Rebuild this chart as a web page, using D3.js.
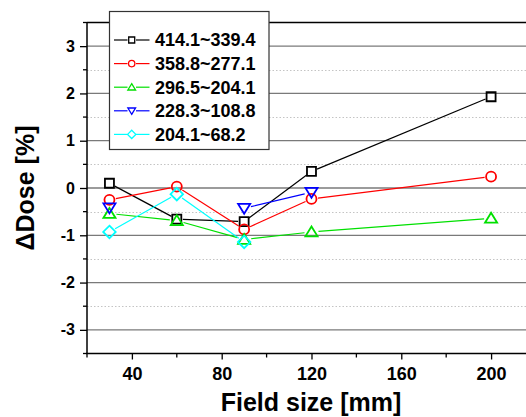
<!DOCTYPE html>
<html><head><meta charset="utf-8">
<script src="https://cdn.jsdelivr.net/npm/d3@7"></script>
<style>
html,body{margin:0;padding:0;background:#fff;}
svg{display:block;font-family:"Liberation Sans",Arial,sans-serif;}
</style></head>
<body>
<svg id="c" width="526" height="417"></svg>
<script>
const fieldSizes = [30, 60, 90, 120, 200];
const seriesNames = ["414.1~339.4", "358.8~277.1", "296.5~204.1", "228.3~108.8", "204.1~68.2"];
const s1 = [0.10, -0.66, -0.71, 0.35, 1.93];
const s2 = [-0.25, 0.03, -0.875, -0.23, 0.24];
const s3 = [-0.54, -0.69, -1.09, -0.93, -0.64];
const s4 = [-0.42, null, -0.43, -0.09, null];
const s5 = [-0.93, -0.13, -1.14, null, null];
const xTicks = [40, 80, 120, 160, 200];
const xMinor = [20, 60, 100, 140, 180];
const yTicks = [-3, -2, -1, 0, 1, 2, 3];
const yMinor = [-3.5, -2.5, -1.5, -0.5, 0.5, 1.5, 2.5, 3.5];

const colors = ["#000000", "#ff0000", "#00e000", "#0000ff", "#00ffff"];
const symbols = ["square", "circle", "triUp", "triDown", "diamond"];
const allSeries = [s1, s2, s3, s4, s5];

const svg = d3.select("#c");
const L = 87, R = 527, T = 22.5, B = 353.5;
const x = d3.scaleLinear().domain([20, 216]).range([L, R]);
const y = d3.scaleLinear().domain([-3.5, 3.5]).range([B, T]);
const fmt = d => String(d);

// grid
const grid = svg.append("g");
grid.selectAll(".mn").data(yMinor.filter(v => v > -3.5 && v < 3.5)).join("line")
  .attr("x1", L).attr("x2", R).attr("y1", d => Math.round(y(d)) + 0.5).attr("y2", d => Math.round(y(d)) + 0.5)
  .attr("stroke", "#c4c4c4").attr("stroke-width", 1).attr("stroke-dasharray", "1.5,2");
grid.selectAll(".mj").data(yTicks).join("line")
  .attr("x1", L).attr("x2", R).attr("y1", d => y(d)).attr("y2", d => y(d))
  .attr("stroke", "#7a7a7a").attr("stroke-width", 1.3);

// marker paths
function markerPath(type, r) {
  switch (type) {
    case "square": return `M${-r},${-r}H${r}V${r}H${-r}Z`;
    case "circle": return `M${r},0A${r},${r} 0 1,1 ${-r},0A${r},${r} 0 1,1 ${r},0Z`;
    case "triUp": return `M0,${-r}L${r * 1.1},${r * 0.8}L${-r * 1.1},${r * 0.8}Z`;
    case "triDown": return `M0,${r}L${r * 1.1},${-r * 0.8}L${-r * 1.1},${-r * 0.8}Z`;
    case "diamond": return `M0,${-r * 1.25}L${r * 1.25},0L0,${r * 1.25}L${-r * 1.25},0Z`;
  }
}
const markR = [4.5, 5, 5.5, 5.5, 5];

const plot = svg.append("g");
allSeries.forEach((vals, i) => {
  const pts = fieldSizes.map((f, k) => vals[k] == null ? null : [x(f), y(vals[k])]);
  const g = plot.append("g");
  const gap = markR[i] + 1.5;
  for (let k = 0; k < pts.length - 1; k++) {
    const a = pts[k], b = pts[k + 1];
    if (!a || !b) continue;
    const dx = b[0] - a[0], dy = b[1] - a[1], len = Math.hypot(dx, dy);
    if (len <= 2 * gap) continue;
    const ux = dx / len, uy = dy / len;
    g.append("line")
      .attr("x1", a[0] + ux * gap).attr("y1", a[1] + uy * gap)
      .attr("x2", b[0] - ux * gap).attr("y2", b[1] - uy * gap)
      .attr("stroke", colors[i]).attr("stroke-width", 1.2);
  }
  g.selectAll("path").data(pts.filter(p => p)).join("path")
    .attr("transform", p => `translate(${p[0]},${p[1]})`)
    .attr("d", markerPath(symbols[i], markR[i]))
    .attr("fill", "none").attr("stroke", colors[i]).attr("stroke-width", 1.8);
});

// axes
const yAxis = svg.append("g").attr("transform", `translate(${L},0)`)
  .call(d3.axisLeft(y).tickValues(yTicks).tickSize(7).tickPadding(5).tickFormat(fmt));
yAxis.selectAll(".tick text").attr("font-size", 16).attr("font-weight", "bold").attr("fill", "#000");
yAxis.select(".domain").attr("stroke", "#000").attr("stroke-width", 1.5).attr("d", `M0,${T}V${B}`);
yAxis.selectAll(".tick line").attr("stroke", "#000").attr("stroke-width", 1.3);
svg.append("g").attr("transform", `translate(${L},0)`)
  .selectAll("line").data(yMinor).join("line")
  .attr("x1", -4).attr("x2", 0).attr("y1", d => y(d)).attr("y2", d => y(d))
  .attr("stroke", "#000").attr("stroke-width", 1.3);

const xAxis = svg.append("g").attr("transform", `translate(0,${B})`)
  .call(d3.axisBottom(x).tickValues(xTicks).tickSize(6).tickPadding(8).tickFormat(fmt));
xAxis.selectAll(".tick text").attr("font-size", 18).attr("font-weight", "bold").attr("fill", "#000");
xAxis.select(".domain").attr("stroke", "#000").attr("stroke-width", 1.5).attr("d", `M${L - 1},0H${R}`);
xAxis.selectAll(".tick line").attr("stroke", "#000").attr("stroke-width", 1.3);
svg.append("g").attr("transform", `translate(0,${B})`)
  .selectAll("line").data(xMinor).join("line")
  .attr("x1", d => x(d)).attr("x2", d => x(d)).attr("y1", 0).attr("y2", 4)
  .attr("stroke", "#000").attr("stroke-width", 1.3);

// top border
svg.append("line").attr("x1", L).attr("x2", R).attr("y1", T).attr("y2", T)
  .attr("stroke", "#000").attr("stroke-width", 1.5);

// axis titles
svg.append("text").attr("x", 311).attr("y", 411).attr("text-anchor", "middle")
  .attr("font-size", 25).attr("font-weight", "bold").text("Field size [mm]");
svg.append("text").attr("transform", "translate(34,188) rotate(-90)").attr("text-anchor", "middle")
  .attr("font-size", 25).attr("font-weight", "bold").text("\u0394Dose [%]");

// legend
const lg = svg.append("g");
lg.append("rect").attr("x", 109.5).attr("y", 11.5).attr("width", 159.5).attr("height", 138)
  .attr("fill", "#fff").attr("stroke", "#333").attr("stroke-width", 1.2);
const legR = [3, 3.2, 3.5, 3.5, 3.3];
seriesNames.forEach((name, i) => {
  const cy = 40 + i * 23.6;
  lg.append("line").attr("x1", 114).attr("x2", 127.5).attr("y1", cy).attr("y2", cy)
    .attr("stroke", colors[i]).attr("stroke-width", 1.2);
  lg.append("line").attr("x1", 136).attr("x2", 149.5).attr("y1", cy).attr("y2", cy)
    .attr("stroke", colors[i]).attr("stroke-width", 1.2);
  lg.append("path").attr("transform", `translate(131.7,${cy})`)
    .attr("d", markerPath(symbols[i], legR[i]))
    .attr("fill", "none").attr("stroke", colors[i]).attr("stroke-width", 1.3);
  lg.append("text").attr("x", 155).attr("y", cy).attr("dy", "0.36em")
    .attr("font-size", 18).attr("font-weight", "bold").attr("fill", "#000").text(name);
});
</script>
</body></html>
